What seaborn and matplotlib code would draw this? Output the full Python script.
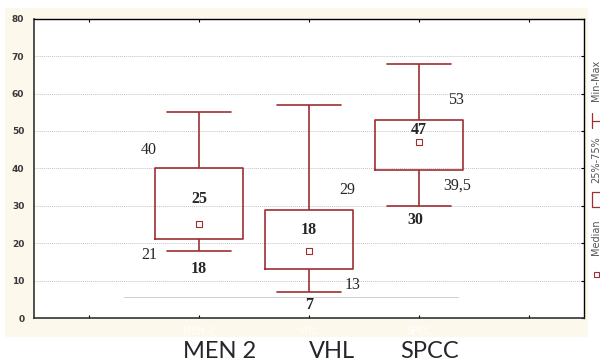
"""Box plot of MEN 2 / VHL / SPCC summary values."""
import matplotlib.pyplot as plt
import pandas as pd
import seaborn as sns
from matplotlib.lines import Line2D
from matplotlib.patches import Rectangle

GROUPS = ["MEN 2", "VHL", "SPCC"]
ORDER = [" ", "MEN 2", "VHL", "SPCC", "  "]
MINS = [18, 7, 30]
Q1S = [21, 13, 39.5]
MEDIANS = [25, 18, 47]
Q3S = [40, 29, 53]
MAXS = [55, 57, 68]
Q1_LABELS = ["21", "13", "39,5"]
Q3_LABELS = ["40", "29", "53"]
Y_TICKS = [0, 10, 20, 30, 40, 50, 60, 70, 80]

BOX_COLOR = "#9e2f33"
CREAM = "#fdf8ec"

rows = []
for g, lo, q1, med, q3, hi in zip(GROUPS, MINS, Q1S, MEDIANS, Q3S, MAXS):
    for v in (lo, q1, med, q3, hi):
        rows.append({"group": g, "value": v})
df = pd.DataFrame(rows)

sns.set_style("white")
plt.rcParams["font.family"] = ["DejaVu Sans"]

fig = plt.figure(figsize=(6.0, 3.63), dpi=100)
fig.patches.append(Rectangle((5 / 600, 1 - 337 / 363), 583 / 600, 329 / 363,
                             transform=fig.transFigure, facecolor=CREAM,
                             edgecolor="none", zorder=-10))
ax = fig.add_axes([34 / 600, 45 / 363, 550 / 600, 299.3 / 363])
ax.set_zorder(1)
ax.set_facecolor("white")

sns.boxplot(data=df, x="group", y="value", order=ORDER, whis=(0, 100),
            width=0.8, fill=False, color=BOX_COLOR, linewidth=1.2,
            medianprops={"visible": False}, ax=ax)

# widen the whisker caps (seaborn draws them at half the box width)
pos = [ORDER.index(g) for g in GROUPS]
for ln in ax.lines:
    xs, ys = ln.get_xdata(), ln.get_ydata()
    if len(xs) == 2 and ys[0] == ys[1] and xs[0] != xs[1]:
        xc = (xs[0] + xs[1]) / 2
        ln.set_xdata([xc - 0.29, xc + 0.29])

ax.scatter(pos, MEDIANS, marker="s", s=14, facecolors="white",
           edgecolors=BOX_COLOR, linewidths=0.8, zorder=5)

serif = "Liberation Serif"
fs = 11.5
med_dy = [6.7, 5.6, 3.3]
min_dy = [-4.8, -3.5, -3.7]
for i, p in enumerate(pos):
    ax.text(p, MEDIANS[i] + med_dy[i], str(MEDIANS[i]), ha="center",
            va="center", family=serif, fontsize=fs, weight="bold")
    ax.text(p - (0.03 if i == 2 else 0), MINS[i] + min_dy[i], str(MINS[i]),
            ha="center", va="center", family=serif, fontsize=fs, weight="bold")
# quartile labels: left side for MEN 2, right side for the others
ax.text(pos[0] - 0.455, Q3S[0] + 4.9, Q3_LABELS[0], ha="center", va="center",
        family=serif, fontsize=fs)
ax.text(pos[0] - 0.455, Q1S[0] - 4.2, Q1_LABELS[0], ha="center", va="center",
        family=serif, fontsize=fs)
ax.text(pos[1] + 0.35, Q3S[1] + 5.2, Q3_LABELS[1], ha="center", va="center",
        family=serif, fontsize=fs)
ax.text(pos[1] + 0.40, Q1S[1] - 4.2, Q1_LABELS[1], ha="center", va="center",
        family=serif, fontsize=fs)
ax.text(pos[2] + 0.34, Q3S[2] + 5.2, Q3_LABELS[2], ha="center", va="center",
        family=serif, fontsize=fs)
ax.text(pos[2] + 0.35, Q1S[2] - 4.0, Q1_LABELS[2], ha="center", va="center",
        family=serif, fontsize=fs)

ax.set_ylim(0, 80)
ax.set_xlim(-0.5, len(ORDER) - 0.5)
ax.set_yticks(Y_TICKS)
ax.set_yticklabels([str(t) for t in Y_TICKS], fontsize=6.5, weight="bold",
                   color="#3a3a3a")
ax.set_xticks(range(len(ORDER)))
ax.set_xticklabels(ORDER, fontsize=7, color="white")
ax.set_xlabel("")
ax.set_ylabel("")
ax.grid(axis="y", linestyle=(0, (1, 1)), color="#c4c4c4", linewidth=0.7)
ax.axhline(5.6, xmin=0.164, xmax=0.771, color="#cfcfcf", linewidth=0.7, zorder=1)
ax.tick_params(axis="x", direction="in", top=True, bottom=True, length=2,
               width=0.8, color="black", pad=6)
ax.tick_params(axis="y", direction="in", left=False, right=True, length=2,
               width=0.8, color="black", pad=7)
for side in ["left", "bottom"]:
    ax.spines[side].set_color("#333333")
    ax.spines[side].set_linewidth(1.2)
for side in ["top", "right"]:
    ax.spines[side].set_color("black")
    ax.spines[side].set_linewidth(1.0)

# big category labels below
for name, xc in zip(GROUPS, [220, 332, 430]):
    fig.text(xc / 600, 1 - 351.5 / 363, name, ha="center", va="center",
             family="Lato", fontsize=17)

# legend strip on the right edge
for txt, yc in [("Min-Max", 80), ("25%-75%", 160), ("Median", 237)]:
    fig.text(596 / 600, 1 - yc / 363, txt, rotation=90, ha="center",
             va="center", fontsize=7, color="#555555")
fig.lines.append(Line2D([592 / 600, 592 / 600], [1 - 113 / 363, 1 - 128 / 363],
                        transform=fig.transFigure, color=BOX_COLOR, linewidth=0.9))
fig.lines.append(Line2D([592 / 600, 600 / 600], [1 - 120.5 / 363, 1 - 120.5 / 363],
                        transform=fig.transFigure, color=BOX_COLOR, linewidth=0.9))
fig.patches.append(Rectangle((592 / 600, 1 - 207 / 363), 10 / 600, 15 / 363,
                             transform=fig.transFigure, facecolor="white",
                             edgecolor=BOX_COLOR, linewidth=0.9))
fig.patches.append(Rectangle((594 / 600, 1 - 277 / 363), 5 / 600, 5 / 363,
                             transform=fig.transFigure, facecolor="white",
                             edgecolor=BOX_COLOR, linewidth=0.8))

fig.savefig("out.png", dpi=100)
plt.close(fig)
